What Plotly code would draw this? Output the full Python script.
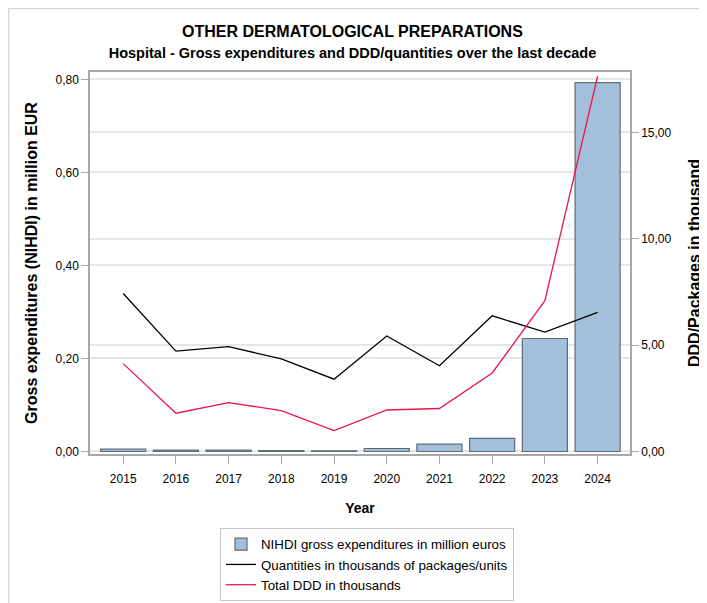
import plotly.graph_objects as go

years = ["2015", "2016", "2017", "2018", "2019", "2020", "2021", "2022", "2023", "2024"]
expenditures = [0.005, 0.003, 0.003, 0.002, 0.0015, 0.0064, 0.0157, 0.028, 0.243, 0.793]
quantities = [7.43, 4.72, 4.93, 4.35, 3.40, 5.43, 4.03, 6.38, 5.61, 6.54]
ddd = [4.13, 1.80, 2.30, 1.92, 0.98, 1.95, 2.02, 3.69, 7.09, 17.64]

left_ticks = [0, 0.2, 0.4, 0.6, 0.8]
right_ticks = [0, 5, 10, 15]

font = "Liberation Sans, Arial, sans-serif"

W, H = 699, 595
ML, MR, MT, MB = 82, 77, 64, 149
PW, PH = W - ML - MR, H - MT - MB


def px(lx):
    return (lx - ML) / PW


def py(ly):
    return (H - MB - ly) / PH


fig = go.Figure()
fig.add_trace(go.Bar(
    x=years, y=expenditures, name="NIHDI gross expenditures in million euros",
    marker=dict(color="#a3bfd9", line=dict(color="#5d6b78", width=1.2)),
    width=0.855, yaxis="y",
))
fig.add_trace(go.Scatter(
    x=years, y=quantities, name="Quantities in thousands of packages/units",
    mode="lines", line=dict(color="#000000", width=1.3), yaxis="y2",
))
fig.add_trace(go.Scatter(
    x=years, y=ddd, name="Total DDD in thousands",
    mode="lines", line=dict(color="#e8174a", width=1.3), yaxis="y2",
))

# outer light frame (top and left edges visible in the reference)
fig.add_shape(type="line", xref="paper", yref="paper",
              x0=px(0.5), x1=px(W), y0=py(0.5), y1=py(0.5),
              line=dict(color="#d4d4d4", width=1.5))
fig.add_shape(type="line", xref="paper", yref="paper",
              x0=px(0.5), x1=px(0.5), y0=py(0.5), y1=py(H),
              line=dict(color="#d4d4d4", width=1.5))

fig.update_layout(
    width=W, height=H,
    margin=dict(l=ML, r=MR, t=MT, b=MB, autoexpand=False),
    paper_bgcolor="white", plot_bgcolor="white",
    font=dict(family=font, size=12, color="#000000"),
    separators=",.",
    title=dict(
        text="<b>OTHER DERMATOLOGICAL PREPARATIONS</b><br><span style='font-size:14.5px'><b>Hospital - Gross expenditures and DDD/quantities over the last decade</b></span>",
        x=0.4928, xref="container", xanchor="center", y=0.951, yanchor="top",
        font=dict(size=16, family=font),
    ),
    showlegend=True,
    legend=dict(
        orientation="v", x=px(212), xanchor="left",
        y=py(520), yanchor="top",
        bordercolor="#c8c8c8", borderwidth=1, font=dict(size=13.3),
        tracegroupgap=0,
    ),
    xaxis=dict(
        title=dict(text="<b>Year</b>", font=dict(size=14), standoff=18),
        showline=True, linecolor="#a4a8ac", linewidth=1.5, mirror=True,
        ticks="outside", ticklen=8, tickcolor="#a4a8ac", tickangle=0,
        ticklabelstandoff=5,
        tickfont=dict(size=12), showgrid=False, range=[-0.63, 9.615],
    ),
    yaxis=dict(
        title=dict(text="<b>Gross expenditures (NIHDI) in million EUR</b>", font=dict(size=16), standoff=14),
        range=[-0.0054, 0.816], tickvals=left_ticks, tickformat=".2f",
        showline=True, linecolor="#a4a8ac", linewidth=1.5,
        ticks="outside", ticklen=7, tickcolor="#a4a8ac",
        showgrid=True, gridcolor="#e6e6e6", gridwidth=1.5, zeroline=False,
    ),
    yaxis2=dict(
        title=dict(text="<b>DDD/Packages in thousand</b>", font=dict(size=16), standoff=18),
        overlaying="y", side="right",
        range=[-0.118, 17.84], tickvals=right_ticks, tickformat=".2f",
        showline=True, linecolor="#a4a8ac", linewidth=1.5,
        ticks="outside", ticklen=7, tickcolor="#a4a8ac",
        showgrid=True, gridcolor="#e6e6e6", gridwidth=1.5, zeroline=False,
    ),
)

fig.write_html("out.html")
